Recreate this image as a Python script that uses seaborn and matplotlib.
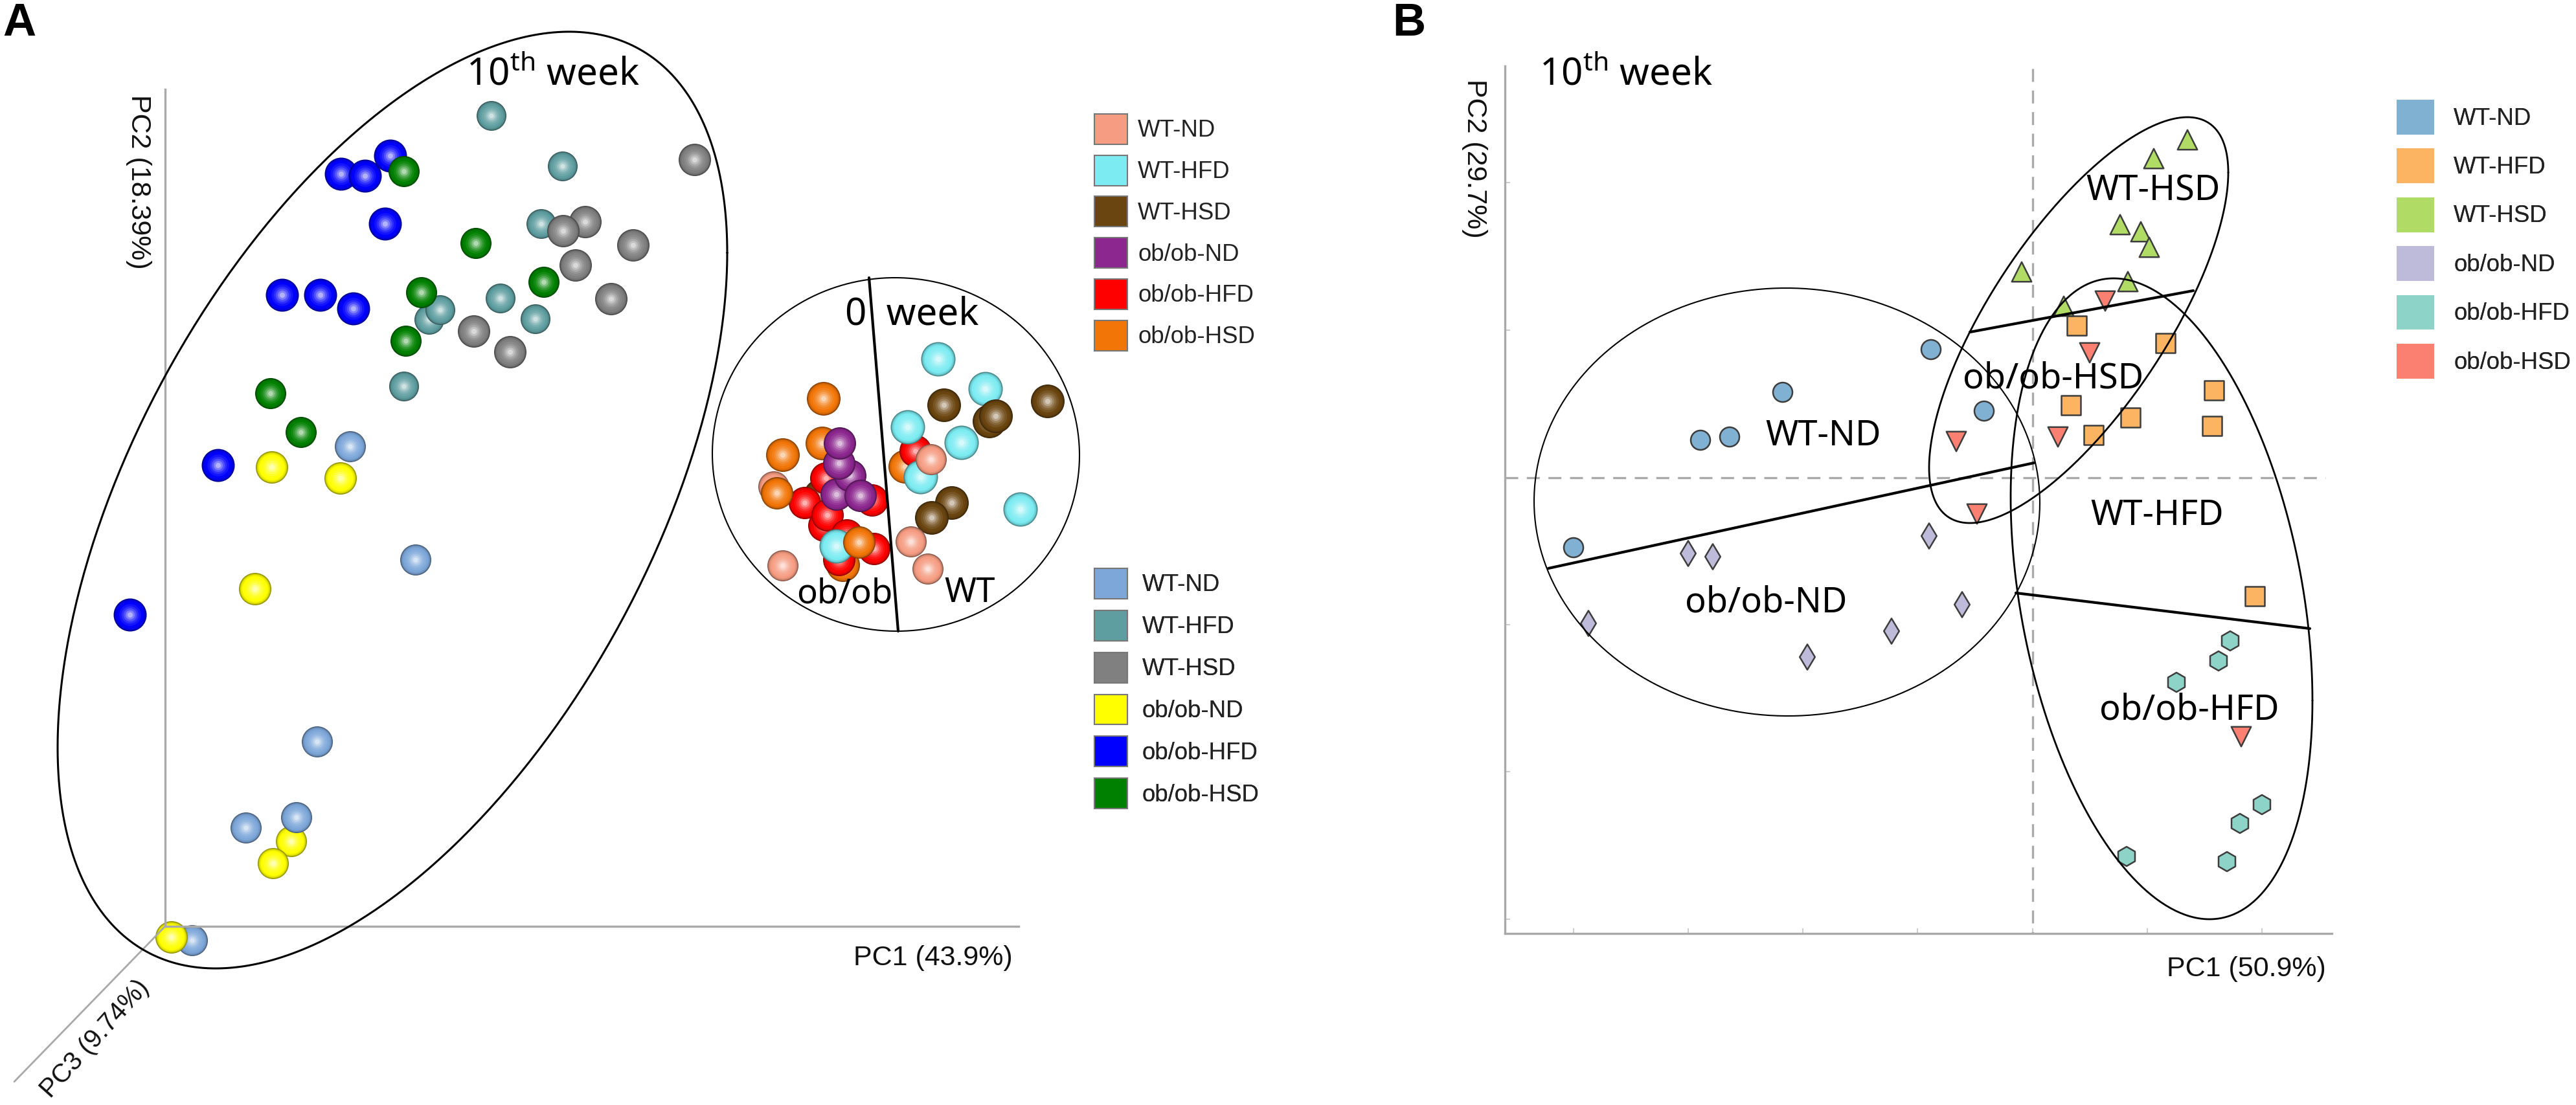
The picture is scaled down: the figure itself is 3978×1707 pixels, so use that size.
import matplotlib
matplotlib.use("Agg")
import matplotlib.pyplot as plt
from matplotlib.colors import to_rgb, to_hex
from matplotlib.patches import Patch
import numpy as np
import pandas as pd
import seaborn as sns

W, H = 3978, 1707
TEXT_FONT = ["Noto Sans", "DejaVu Sans"]
AXIS_FONT = ["Liberation Sans", "DejaVu Sans"]

# all scores below are read off the picture, so the axes use the picture's scale
# panel A, 10th week
a_teal_x = [759, 869, 836, 663, 680, 773, 827, 624]
a_teal_y = [179, 257, 346, 494, 479, 461, 493, 597]
a_gray_x = [1073, 904, 870, 978, 889, 944, 732, 788]
a_gray_y = [247, 343, 357, 379, 410, 462, 512, 544]
a_blue_x = [603, 527, 564, 595, 436, 495, 546, 337, 201]
a_blue_y = [241, 269, 272, 346, 456, 456, 477, 719, 950]
a_green_x = [624, 735, 840, 651, 627, 418, 465]
a_green_y = [265, 376, 436, 452, 527, 608, 668]
a_yellow_far_x = [450, 422]
a_yellow_far_y = [1300, 1334]
a_light_x = [541, 642, 490, 458, 380, 297]
a_light_y = [690, 865, 1146, 1263, 1279, 1453]
a_yellow_x = [420, 526, 394, 265]
a_yellow_y = [722, 739, 910, 1448]

# panel A, 0 week
o_brown_far_x = [1267]
o_brown_far_y = [766]
o_orange_far_x = [1302, 1270, 1398, 1272, 1209]
o_orange_far_y = [873, 685, 721, 616, 703]
o_red_x = [1414, 1276, 1243, 1347, 1273, 1278, 1308, 1350, 1296]
o_red_y = [697, 739, 777, 773, 812, 796, 827, 848, 865]
o_cyan_x = [1449, 1522, 1402, 1485, 1422, 1576, 1292]
o_cyan_y = [555, 601, 660, 684, 737, 787, 844]
o_brown_x = [1458, 1618, 1528, 1538, 1470, 1439]
o_brown_y = [626, 620, 651, 643, 777, 800]
o_purple_x = [1292, 1313, 1296, 1297, 1329]
o_purple_y = [764, 735, 716, 685, 766]
o_salmon_x = [1438, 1407, 1433, 1209, 1195]
o_salmon_y = [710, 837, 879, 874, 752]
o_orange_x = [1327, 1200]
o_orange_y = [838, 762]

# panel B
b_nd_x = [2982, 2753, 2671, 2626, 3064, 2430]
b_nd_y = [540, 606, 675, 680, 635, 846]
b_hfd_x = [3207, 3344, 3419, 3416, 3198, 3290, 3233, 3482]
b_hfd_y = [503, 530, 603, 658, 626, 645, 672, 921]
b_hsd_x = [3378, 3326, 3274, 3306, 3319, 3122, 3286, 3187]
b_hsd_y = [216, 245, 347, 358, 382, 420, 435, 473]
b_ob_nd_x = [2979, 3030, 2921, 2607, 2645, 2453, 2791]
b_ob_nd_y = [828, 934, 975, 855, 860, 963, 1015]
b_ob_hfd_x = [3444, 3426, 3361, 3493, 3459, 3439, 3284]
b_ob_hfd_y = [990, 1021, 1054, 1243, 1272, 1331, 1323]
b_ob_hsd_x = [3021, 3178, 3053, 3251, 3227, 3461]
b_ob_hsd_y = [682, 675, 794, 465, 545, 1138]

group_labels = ["WT-ND", "WT-HFD", "WT-HSD", "ob/ob-ND", "ob/ob-HFD", "ob/ob-HSD"]
colors_week0 = ["#F59C82", "#7CECF2", "#6B4510", "#8C278F", "#FF0000", "#F27507"]
colors_week10 = ["#7DA7D9", "#5F9EA0", "#808080", "#FFFF00", "#0000FF", "#008000"]
colors_b = ["#80B1D3", "#FDB462", "#B0DB64", "#BEBADA", "#8DD3C7", "#FB8072"]
markers_b = ["o", "s", "^", "d", "h", "v"]
areas_b = [467, 467, 480, 400, 467, 480]

b_x_ticks = [2430, 2607, 2784, 2961, 3139, 3316, 3493]
b_y_ticks = [282, 510, 738, 965, 1192, 1420]

SPHERE_LAYERS = [(1.0, -0.45), (0.95, -0.22), (0.89, -0.08), (0.8, 0.0), (0.66, 0.08),
                 (0.52, 0.18), (0.4, 0.32), (0.28, 0.5), (0.16, 0.7)]


def shade(color, amount):
    rgb = np.array(to_rgb(color))
    if amount < 0:
        return to_hex(rgb * (1 + amount))
    return to_hex(rgb + (1 - rgb) * amount)


def panel_axes(fig, left, right, top, bottom):
    ax = fig.add_axes([left / W, 1 - bottom / H, (right - left) / W, (bottom - top) / H])
    ax.set_facecolor("none")
    sns.despine(ax=ax)
    for side in ["left", "bottom"]:
        ax.spines[side].set_color("#a9a9a9")
        ax.spines[side].set_linewidth(2.4)
    return ax, (left, right, bottom, top)


def draw_spheres(ax, stack):
    rows = []
    for color, diameter, xs, ys in stack:
        for x, y in zip(xs, ys):
            for frac, amount in SPHERE_LAYERS:
                area = (diameter * frac * 72 / 100) ** 2
                rows.append((x, y, shade(color, amount), round(area, 1)))
    frame = pd.DataFrame(rows, columns=["x", "y", "color", "area"])
    sns.scatterplot(
        data=frame, x="x", y="y", hue="color", size="area",
        palette={c: c for c in frame["color"].unique()},
        sizes={a: a for a in frame["area"].unique()},
        linewidth=0, legend=False, ax=ax,
    )
    ax.collections[-1].set_clip_on(False)
    ax.set_xlabel("")
    ax.set_ylabel("")


def draw_ellipse(ax, left, right, top, bottom, top_x, lw):
    cx, cy = (left + right) / 2, (top + bottom) / 2
    a, b = (right - left) / 2, (bottom - top) / 2
    lean = -(top_x - cx) * b / a
    t = np.linspace(0, 2 * np.pi, 400)
    x = cx + a * np.cos(t)
    y = cy + lean * np.cos(t) + np.sqrt(b ** 2 - lean ** 2) * np.sin(t)
    ax.plot(x, y, color="black", lw=lw, clip_on=False, zorder=4)


def swatch_legend(ax, colors, x, y, edge, handlelength, handleheight, pad, spacing):
    handles = [Patch(facecolor=c, edgecolor=edge, linewidth=1.5 if edge != "none" else 0, label=l)
               for c, l in zip(colors, group_labels)]
    legend = ax.legend(
        handles=handles, loc="upper left", bbox_to_anchor=(x, y), bbox_transform=ax.transData,
        frameon=False, borderpad=0, borderaxespad=0, handlelength=handlelength,
        handleheight=handleheight, handletextpad=pad, labelspacing=spacing,
        prop={"family": AXIS_FONT, "size": 26.4},
    )
    for text in legend.get_texts():
        text.set_color("#222222")
    ax.add_artist(legend)


def label(ax, x, y, text, size=39, **kws):
    ax.text(x, y, text, family=TEXT_FONT, fontsize=size, color="black", ha="left", va="baseline",
            clip_on=False, zorder=5, **kws)


def axis_text(ax, x, y, text, rotation=0, size=31):
    ax.text(x, y, text, family=AXIS_FONT, fontsize=size, color="#111111", ha="center", va="center",
            rotation=rotation, rotation_mode="anchor", clip_on=False)


sns.set_theme(style="white")
plt.rcParams["font.family"] = TEXT_FONT
plt.rcParams["mathtext.default"] = "regular"

fig = plt.figure(figsize=(W / 100, H / 100), dpi=100, facecolor="white")

# panel A
ax_a, limits_a = panel_axes(fig, 255, 1573, 138, 1431)
draw_spheres(ax_a, [
    (colors_week10[1], 46, a_teal_x, a_teal_y),
    (colors_week10[2], 50, a_gray_x, a_gray_y),
    (colors_week10[4], 51, a_blue_x, a_blue_y),
    (colors_week10[5], 48, a_green_x, a_green_y),
    (colors_week10[3], 48, a_yellow_far_x, a_yellow_far_y),
    (colors_week10[0], 48, a_light_x, a_light_y),
    (colors_week10[3], 50, a_yellow_x, a_yellow_y),
    (colors_week0[5], 52, o_orange_far_x, o_orange_far_y),
    (colors_week0[2], 52, o_brown_far_x, o_brown_far_y),
    (colors_week0[4], 50, o_red_x, o_red_y),
    (colors_week0[1], 53, o_cyan_x, o_cyan_y),
    (colors_week0[2], 52, o_brown_x, o_brown_y),
    (colors_week0[3], 50, o_purple_x, o_purple_y),
    (colors_week0[0], 48, o_salmon_x, o_salmon_y),
    (colors_week0[5], 50, o_orange_x, o_orange_y),
])
ax_a.plot([255, 22], [1431, 1671], color="#a9a9a9", lw=2.0, clip_on=False, zorder=1)
draw_ellipse(ax_a, 89, 1123, 49, 1496, 879, 2.2)
draw_ellipse(ax_a, 1100, 1667, 429, 975, 1382, 1.5)
ax_a.plot([1342, 1387], [429, 975], color="black", lw=3, clip_on=False, zorder=4)
label(ax_a, 720, 132, "10$^{th}$ week", size=42)
label(ax_a, 1305, 502, "0  week", size=42)
label(ax_a, 1230, 932, "ob/ob", size=38)
label(ax_a, 1458, 930, "WT", size=38)
axis_text(ax_a, 214, 281, "PC2 (18.39%)", rotation=270)
axis_text(ax_a, 1441, 1480, "PC1 (43.9%)")
axis_text(ax_a, 147, 1605, "PC3 (9.74%)", rotation=48, size=29)
swatch_legend(ax_a, colors_week0, 1690, 176, "#777777", 1.39, 1.59, 0.44, 0.46)
swatch_legend(ax_a, colors_week10, 1690, 878, "#777777", 1.39, 1.59, 0.62, 0.49)
ax_a.set_xticks([])
ax_a.set_yticks([])
ax_a.set_xlim(limits_a[0], limits_a[1])
ax_a.set_ylim(limits_a[2], limits_a[3])

# panel B
ax_b, limits_b = panel_axes(fig, 2324, 3601, 102, 1442)
frame_b = pd.concat([
    pd.DataFrame({"PC1": xs, "PC2": ys, "group": name})
    for name, xs, ys in zip(
        group_labels,
        [b_nd_x, b_hfd_x, b_hsd_x, b_ob_nd_x, b_ob_hfd_x, b_ob_hsd_x],
        [b_nd_y, b_hfd_y, b_hsd_y, b_ob_nd_y, b_ob_hfd_y, b_ob_hsd_y],
    )
])
sns.scatterplot(
    data=frame_b, x="PC1", y="PC2", hue="group", style="group", size="group",
    palette=dict(zip(group_labels, colors_b)),
    markers=dict(zip(group_labels, markers_b)),
    sizes=dict(zip(group_labels, areas_b)),
    edgecolor="#3d3d3d", linewidth=1.8, legend=False, ax=ax_b, zorder=3,
)
ax_b.collections[-1].set_clip_on(False)
ax_b.set_xlabel("")
ax_b.set_ylabel("")
ax_b.vlines(b_x_ticks[4], 106, 1442, color="#aaaaaa", lw=2.4, linestyles=(0, (6, 4)), zorder=2)
ax_b.hlines(b_y_ticks[2], 2324, 3591, color="#aaaaaa", lw=2.4, linestyles=(0, (6, 4)), zorder=2)
draw_ellipse(ax_b, 2369, 3150, 445, 1106, 2758, 1.5)
draw_ellipse(ax_b, 2979, 3441, 181, 808, 3378, 2.0)
draw_ellipse(ax_b, 3105, 3571, 430, 1420, 3264, 2.0)
ax_b.plot([2391, 3141], [878, 715], color="black", lw=3, zorder=4)
ax_b.plot([3042, 3387], [513, 449], color="black", lw=3, zorder=4)
ax_b.plot([3113, 3567], [916, 971], color="black", lw=3, zorder=4)
label(ax_b, 2377, 132, "10$^{th}$ week", size=42)
label(ax_b, 2726, 688, "WT-ND")
label(ax_b, 3221, 310, "WT-HSD")
label(ax_b, 3031, 600, "ob/ob-HSD")
label(ax_b, 3228, 811, "WT-HFD")
label(ax_b, 3242, 1111, "ob/ob-HFD")
label(ax_b, 2602, 945, "ob/ob-ND")
axis_text(ax_b, 2277, 245, "PC2 (29.7%)", rotation=270)
axis_text(ax_b, 3469, 1497, "PC1 (50.9%)")
swatch_legend(ax_b, colors_b, 3701, 154, "none", 1.58, 1.885, 0.82, 0.586)
ax_b.set_xticks(b_x_ticks)
ax_b.set_yticks(b_y_ticks)
ax_b.set_xticklabels([])
ax_b.set_yticklabels([])
ax_b.tick_params(direction="in", length=6, width=1.2, color="#c4c4c4", bottom=True, left=True)
ax_b.set_xlim(limits_b[0], limits_b[1])
ax_b.set_ylim(limits_b[2], limits_b[3])

fig.text(4 / W, 1 - 55 / H, "A", family=AXIS_FONT, fontsize=51, fontweight="bold", color="black")
fig.text(2150 / W, 1 - 55 / H, "B", family=AXIS_FONT, fontsize=51, fontweight="bold", color="black")

fig.savefig("out.png", dpi=100)
